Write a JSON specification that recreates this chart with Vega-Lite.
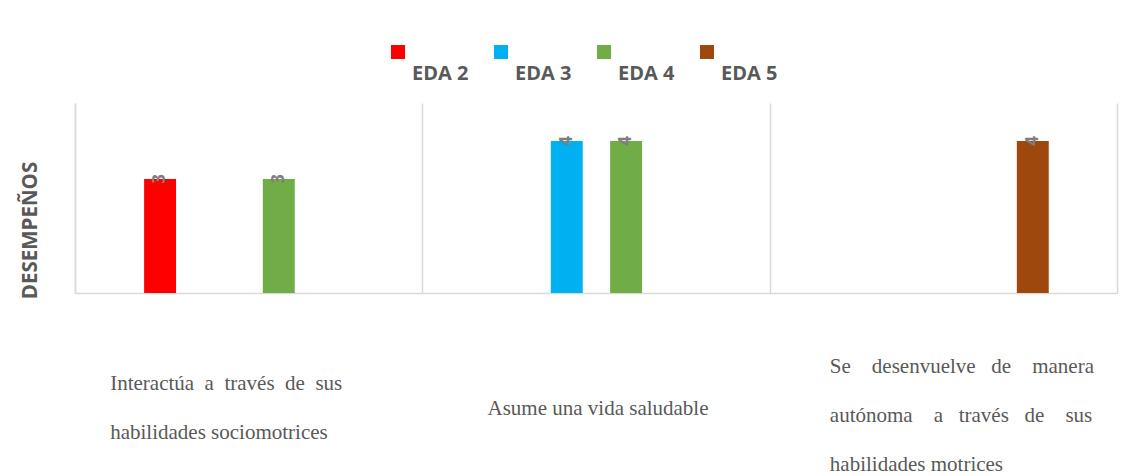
{
  "$schema": "https://vega.github.io/schema/vega-lite/v6.json",
  "width": 1042,
  "height": 190,
  "autosize": {"type": "none"},
  "padding": {"left": 75, "top": 103, "right": 17, "bottom": 183},
  "background": "white",
  "data": {
    "values": [
      {"competencia": "Interactúa a través de sus habilidades sociomotrices", "eda": "EDA 2", "desempeno": 3},
      {"competencia": "Interactúa a través de sus habilidades sociomotrices", "eda": "EDA 4", "desempeno": 3},
      {"competencia": "Asume una vida saludable", "eda": "EDA 3", "desempeno": 4},
      {"competencia": "Asume una vida saludable", "eda": "EDA 4", "desempeno": 4},
      {"competencia": "Se desenvuelve de manera autónoma a través de sus habilidades motrices", "eda": "EDA 5", "desempeno": 4}
    ]
  },
  "encoding": {
    "x": {
      "field": "competencia",
      "type": "nominal",
      "sort": [
        "Interactúa a través de sus habilidades sociomotrices",
        "Asume una vida saludable",
        "Se desenvuelve de manera autónoma a través de sus habilidades motrices"
      ],
      "scale": {"paddingInner": 0, "paddingOuter": 0},
      "axis": {
        "title": null,
        "tickBand": "extent",
        "grid": true,
        "gridColor": "#d9d9d9",
        "gridWidth": 1.5,
        "ticks": false,
        "tickSize": 0,
        "domainColor": "#d9d9d9",
        "domainWidth": 1.5,
        "labelAngle": 0,
        "labelFont": "Liberation Serif",
        "labelFontSize": 21,
        "labelColor": "#595959",
        "labelPadding": {
          "condition": [
            {"test": "datum.value == 'Interactúa a través de sus habilidades sociomotrices'", "value": 90},
            {"test": "datum.value == 'Se desenvuelve de manera autónoma a través de sus habilidades motrices'", "value": 73}
          ],
          "value": 115
        },
        "labelBaseline": "middle",
        "labelLineHeight": 49,
        "labelLimit": 0,
        "labelAlign": "left",
        "labelOffset": {
          "condition": [
            {"test": "datum.value == 'Interactúa a través de sus habilidades sociomotrices'", "value": -139},
            {"test": "datum.value == 'Se desenvuelve de manera autónoma a través de sus habilidades motrices'", "value": -114}
          ],
          "value": -109
        },
        "labelExpr": "datum.value == 'Interactúa a través de sus habilidades sociomotrices' ? ['Interactúa\u00a0 a\u00a0 través\u00a0 de\u00a0 sus', 'habilidades sociomotrices'] : datum.value == 'Se desenvuelve de manera autónoma a través de sus habilidades motrices' ? ['Se\u00a0\u00a0\u00a0 desenvuelve\u00a0\u00a0 de\u00a0\u00a0\u00a0 manera', 'autónoma\u00a0\u00a0\u00a0 a\u00a0\u00a0 través\u00a0\u00a0 de\u00a0\u00a0\u00a0 sus', 'habilidades motrices'] : datum.label"
      }
    },
    "xOffset": {
      "field": "eda",
      "type": "nominal",
      "scale": {"domain": ["EDA 2", "EDA 3", "EDA 4", "EDA 5"], "range": [55.4, 292.8], "paddingInner": 0.462, "paddingOuter": 0.231}
    },
    "y": {
      "field": "desempeno",
      "type": "quantitative",
      "scale": {"domain": [0, 5]},
      "axis": {
        "title": "DESEMPEÑOS",
        "labels": false,
        "ticks": false,
        "grid": false,
        "domain": true,
        "domainColor": "#d9d9d9",
        "domainWidth": 1.5,
        "titleFont": "Open Sans",
        "titleFontSize": 20.5,
        "titleFontWeight": "bold",
        "titleColor": "#595959",
        "titleAngle": 270,
        "titleX": -45,
        "titleY": 127,
        "titleAlign": "center",
        "titleBaseline": "middle"
      }
    }
  },
  "layer": [
    {
      "mark": {"type": "bar"},
      "encoding": {
        "color": {
          "field": "eda",
          "type": "nominal",
          "scale": {"domain": ["EDA 2", "EDA 3", "EDA 4", "EDA 5"], "range": ["#ff0000", "#00b0f0", "#70ad47", "#9e480e"]},
          "legend": {
            "orient": "none",
            "legendX": 313,
            "legendY": -61,
            "direction": "horizontal",
            "title": null,
            "symbolType": "square",
            "symbolSize": 196,
            "symbolStrokeWidth": 0,
            "symbolOpacity": 1,
            "labelFont": "Open Sans",
            "labelFontSize": 20,
            "labelFontWeight": "bold",
            "labelColor": "#595959",
            "labelOffset": 4,
            "columnPadding": 22,
            "labelExpr": "['', datum.label]",
            "labelBaseline": "middle",
            "labelLineHeight": 20,
            "padding": 0,
            "labelLimit": 0
          }
        }
      }
    },
    {
      "mark": {"type": "text", "angle": 270, "align": "center", "baseline": "middle", "font": "Open Sans", "fontSize": 17, "fontWeight": "bold", "color": "#7f7f7f"},
      "encoding": {"text": {"field": "desempeno", "type": "quantitative"}}
    }
  ],
  "config": {"view": {"stroke": null}}
}
